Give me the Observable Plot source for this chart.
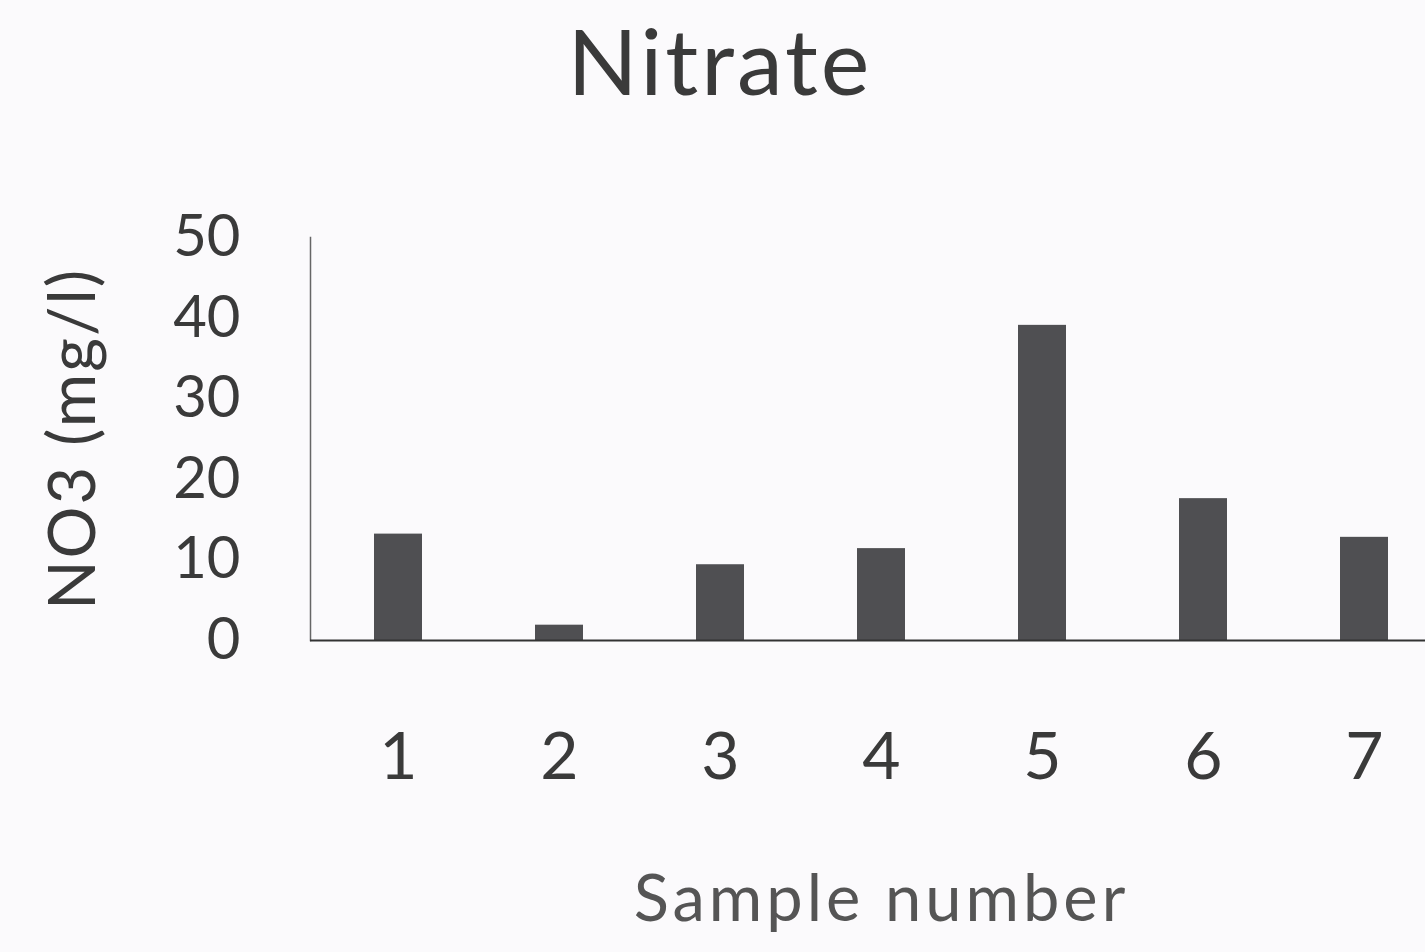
<!DOCTYPE html>
<html>
<head>
<meta charset="utf-8">
<script src="https://cdn.jsdelivr.net/npm/d3@7"></script>
<script src="https://cdn.jsdelivr.net/npm/@observablehq/plot@0.6"></script>
<style>
  html, body { margin: 0; padding: 0; background: #fbfafc; overflow: hidden; width: 1425px; height: 952px; }
  #title { height: 150px; width: 1425px; position: relative; }
  #title span { position: absolute; left: 720px; top: 4px; transform: translateX(-50%); font-family: Lato, "Open Sans", sans-serif; font-size: 92px; letter-spacing: 3px; color: #3a3a3a; white-space: nowrap; }
  #chart svg { display: block; overflow: visible; max-width: none !important; }
  .ylab text { letter-spacing: 2px; }
  .xlab text { letter-spacing: 4px; }
</style>
</head>
<body>
<div id="title"><span>Nitrate</span></div>
<div id="chart"></div>
<script>
const samples = ["1", "2", "3", "4", "5", "6", "7"];
const nitrate = [13.2, 1.9, 9.4, 11.4, 39.1, 17.6, 12.8];
const yTicks = [0, 10, 20, 30, 40, 50];
const yLabel = "NO3 (mg/l)";
const xLabel = "Sample number";

const data = samples.map((s, i) => ({sample: s, value: nitrate[i]}));

const chart = Plot.plot({
  width: 1470,
  height: 802,
  marginTop: 87,
  marginBottom: 312,
  marginLeft: 310,
  marginRight: 18,
  style: {fontFamily: "Lato, 'Open Sans', sans-serif", background: "transparent", color: "#3a3a3a", maxWidth: "none"},
  x: {domain: samples, paddingInner: 0.7, paddingOuter: 0.375, label: null},
  y: {domain: [0, 50], label: null},
  marks: [
    Plot.barY(data, {x: "sample", y: "value", fill: "#4f4f52"}),
    Plot.frame({anchor: "left", stroke: "#666", strokeWidth: 1.5}),
    Plot.ruleY([0], {stroke: "#333", strokeWidth: 2}),
    Plot.axisY({ticks: yTicks, tickSize: 0, tickPadding: 70, fontSize: 58, fill: "#3a3a3a", label: null}),
    Plot.axisX({tickSize: 0, tickPadding: 92, fontSize: 66, fill: "#3a3a3a", label: null}),
    Plot.text([yLabel], {className: "ylab", frameAnchor: "left", rotate: -90, dx: -262, lineAnchor: "top", textAnchor: "middle", fontSize: 65, fill: "#3a3a3a"}),
    Plot.text([xLabel], {className: "xlab", frameAnchor: "bottom", dy: 234, lineAnchor: "top", textAnchor: "middle", fontSize: 65, fill: "#555"})
  ]
});
document.getElementById("chart").appendChild(chart);
</script>
</body>
</html>
